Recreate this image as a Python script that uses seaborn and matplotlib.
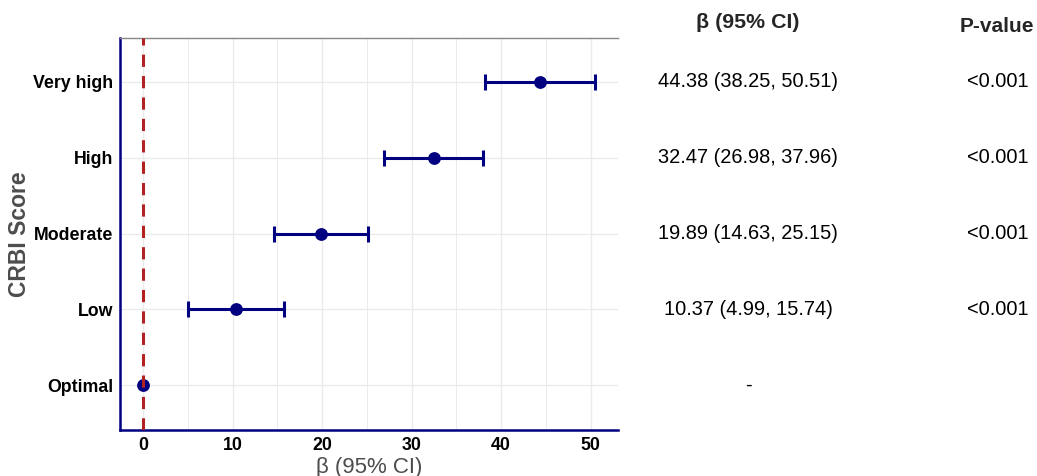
import numpy as np
import pandas as pd
import matplotlib
matplotlib.use("Agg")
import matplotlib.pyplot as plt
import matplotlib.transforms as mtransforms
import seaborn as sns

# forest plot data
categories = ["Very high", "High", "Moderate", "Low", "Optimal"]
beta = [44.38, 32.47, 19.89, 10.37, 0.0]
ci_low = [38.25, 26.98, 14.63, 4.99, 0.0]
ci_high = [50.51, 37.96, 25.15, 15.74, 0.0]
ci_text = ["44.38 (38.25, 50.51)", "32.47 (26.98, 37.96)", "19.89 (14.63, 25.15)",
           "10.37 (4.99, 15.74)", "-"]
p_text = ["<0.001", "<0.001", "<0.001", "<0.001", ""]
x_ticks = [0, 10, 20, 30, 40, 50]

sns.set_theme(style="white")
plt.rcParams['font.family'] = ['Liberation Sans', 'DejaVu Sans']

df = pd.DataFrame({"cat": categories, "beta": beta, "lo": ci_low, "hi": ci_high})
df["pos"] = np.arange(len(df))

navy = "#000080"
fig = plt.figure(figsize=(10.37, 4.76), dpi=100)
ax = fig.add_axes([120 / 1037, 46 / 476, 498 / 1037, 392 / 476])

# grid, major + minor like ggplot
for v in np.arange(0, 55, 5):
    ax.axvline(v, color="#EBEBEB", lw=1.0 if v % 10 == 0 else 0.7, zorder=0)
for p in df["pos"]:
    ax.axhline(p, color="#EBEBEB", lw=1.0, zorder=0)

# error bars (skip the reference category)
has_ci = df["hi"] > df["lo"]
ax.errorbar(df.loc[has_ci, "beta"], df.loc[has_ci, "pos"],
            xerr=[df.loc[has_ci, "beta"] - df.loc[has_ci, "lo"],
                  df.loc[has_ci, "hi"] - df.loc[has_ci, "beta"]],
            fmt="none", ecolor=navy, elinewidth=2.2, capsize=6, capthick=2.2, zorder=2)
sns.scatterplot(data=df, x="beta", y="pos", color=navy, s=85, edgecolor=navy,
                linewidth=0, ax=ax, zorder=3, legend=False)

ax.axvline(0, color="#B22222", lw=2.2, ls=(0, (4, 3)), zorder=4)

ax.set_xlim(-2.57, 53.07)
ax.set_ylim(len(df) - 1 + 0.59, -0.58)
ax.set_xticks(x_ticks)
ax.set_yticks(df["pos"])
ax.set_yticklabels(categories)
ax.tick_params(axis="both", length=3.5, width=1, color="#333333", pad=1.5)
for lab in ax.get_xticklabels() + ax.get_yticklabels():
    lab.set_fontweight("bold")
    lab.set_color("black")
    lab.set_fontsize(12.8)

for s in ["left", "bottom"]:
    ax.spines[s].set_color(navy)
    ax.spines[s].set_linewidth(1.8)
ax.spines["top"].set_color("#888888")
ax.spines["top"].set_linewidth(1.0)
ax.spines["right"].set_visible(False)

ax.set_xlabel("β (95% CI)", fontsize=16, color="#4D4D4D", labelpad=2)
ax.set_ylabel("CRBI Score", fontsize=16.5, fontweight="bold", color="#4D4D4D")
ax.yaxis.set_label_coords((31 - 120) / 498, 0.5)

# table on the right
trans = mtransforms.blended_transform_factory(fig.transFigure, ax.transData)
for p, t1, t2 in zip(df["pos"], ci_text, p_text):
    ax.text(748 / 1037, p, t1, transform=trans, ha="center", va="center", fontsize=14.4,
            color="black", clip_on=False)
    ax.text(998 / 1037, p, t2, transform=trans, ha="center", va="center", fontsize=14.4,
            color="black", clip_on=False)

fig.text(748 / 1037, 1 - 23 / 476, "β (95% CI)", ha="center", va="center", fontsize=15.4,
         fontweight="bold")
fig.text(997 / 1037, 1 - 27 / 476, "P-value", ha="center", va="center", fontsize=15,
         fontweight="bold")

fig.savefig("out.png", dpi=100)
